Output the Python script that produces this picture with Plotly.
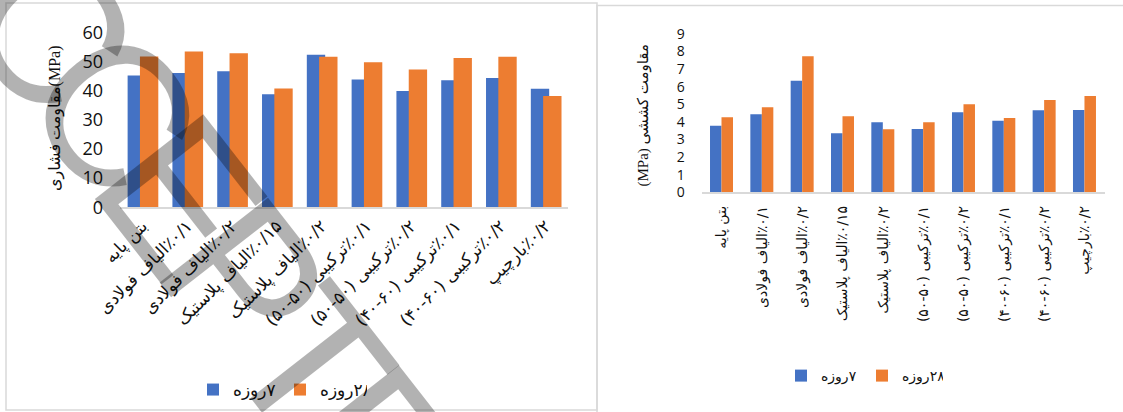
import plotly.graph_objects as go

W, H = 1123, 412

# ---------------- data ----------------
categories = [
    "بتن پایه",
    "٪۰/۱الیاف فولادی",
    "٪۰/۲الیاف فولادی",
    "٪۰/۱۵الیاف پلاستیک",
    "٪۰/۲الیاف پلاستیک",
    "٪۰/۱ترکیبی (۵۰-۵۰)",
    "٪۰/۲ترکیبی (۵۰-۵۰)",
    "٪۰/۱ترکیبی (۶۰-۴۰)",
    "٪۰/۲ترکیبی (۶۰-۴۰)",
    "٪۰/۲بارچیپ",
]
compressive_7 = [45.3, 46.1, 46.7, 38.8, 52.4, 43.9, 39.9, 43.6, 44.4, 40.7]
compressive_28 = [51.8, 53.5, 52.9, 40.8, 51.7, 49.8, 47.3, 51.3, 51.7, 38.2]
tensile_7 = [3.78, 4.43, 6.34, 3.35, 3.98, 3.60, 4.55, 4.07, 4.66, 4.68]
tensile_28 = [4.26, 4.83, 7.73, 4.32, 3.58, 3.98, 5.00, 4.22, 5.24, 5.47]
series_names = ["۷روزه", "۲۸روزه"]
left_title = "مقاومت فشاری(MPa)"
right_title = "مقاومت کششی (MPa)"
watermark_letters = ["C", "C", "E", "P", "T", "E", "D"]

BLUE = "#4472C4"
ORANGE = "#ED7D31"
RLE, PDF = "\u202B", "\u202C"


def rtl(s):
    return RLE + s + PDF


def px(x):
    return x / W


def py(y):
    return 1 - y / H


labels = [rtl(c) for c in categories]
names = [rtl(n) for n in series_names]

fig = go.Figure()

# left chart (compressive)
fig.add_trace(go.Bar(x=labels, y=compressive_7, name=names[0], marker_color=BLUE,
                     width=0.41, offset=-0.33, xaxis="x", yaxis="y", legend="legend"))
fig.add_trace(go.Bar(x=labels, y=compressive_28, name=names[1], marker_color=ORANGE,
                     width=0.41, offset=-0.055, xaxis="x", yaxis="y", legend="legend"))
# right chart (tensile)
fig.add_trace(go.Bar(x=labels, y=tensile_7, name=names[0], marker_color=BLUE,
                     width=0.285, offset=-0.294, xaxis="x2", yaxis="y2", legend="legend2"))
fig.add_trace(go.Bar(x=labels, y=tensile_28, name=names[1], marker_color=ORANGE,
                     width=0.285, offset=-0.009, xaxis="x2", yaxis="y2", legend="legend2"))

FA = "DejaVu Sans"
NUM = "Open Sans, Liberation Sans, sans-serif"

fig.update_layout(
    template="none",
    width=W, height=H, autosize=False,
    margin=dict(l=0, r=0, t=0, b=0, pad=0, autoexpand=False),
    paper_bgcolor="white", plot_bgcolor="white",
    barmode="overlay",
    xaxis=dict(domain=[px(120), px(568)], anchor="y", type="category", automargin=False,
               range=[-0.5, 9.5], tickangle=-45, ticks="",
               tickfont=dict(family=FA, size=17, color="#111"),
               showline=True, linecolor="#d9d9d9", linewidth=2, showgrid=False, zeroline=False),
    yaxis=dict(domain=[py(207.3), py(32.6)], anchor="x", range=[0, 60], dtick=10,
               automargin=False,
               showgrid=False, zeroline=False, showline=False, ticks="",
               ticklabelstandoff=16,
               tickfont=dict(family=NUM, size=18, color="#111")),
    xaxis2=dict(domain=[px(701.7), px(1105)], anchor="y2", type="category", automargin=False,
                range=[-0.5, 9.5], tickangle=-90, ticks="", ticklabelstandoff=6,
                tickfont=dict(family=FA, size=14, color="#111"),
                showline=True, linecolor="#d9d9d9", linewidth=2, showgrid=False, zeroline=False),
    yaxis2=dict(domain=[py(192.3), py(33.9)], anchor="x2", range=[0, 9], dtick=1,
                automargin=False,
                showgrid=False, zeroline=False, showline=False, ticks="",
                ticklabelstandoff=16,
                tickfont=dict(family=NUM, size=14, color="#111")),
    legend=dict(orientation="h", x=px(193), y=py(390), xanchor="left", yanchor="middle",
                font=dict(family=FA, size=17, color="#111"), bgcolor="rgba(0,0,0,0)",
                traceorder="normal", entrywidth=42),
    legend2=dict(orientation="h", x=px(781), y=py(376), xanchor="left", yanchor="middle",
                 font=dict(family=FA, size=14, color="#111"), bgcolor="rgba(0,0,0,0)",
                 traceorder="normal", entrywidth=36),
    showlegend=True,
)

annotations = [
    dict(text=left_title, x=px(55), y=py(119), xref="paper", yref="paper",
         textangle=-90, showarrow=False, xanchor="center", yanchor="middle",
         font=dict(family="Liberation Serif, DejaVu Sans", size=16, color="#111")),
    dict(text=rtl(right_title), x=px(643), y=py(115.5), xref="paper", yref="paper",
         textangle=-90, showarrow=False, xanchor="center", yanchor="middle",
         font=dict(family="Liberation Serif, DejaVu Sans", size=15, color="#111")),
]

# watermark letters along a diagonal
start = (49.7, 28.5)
step = (65.3, 83.5)
for i, ch in enumerate(watermark_letters):
    cx = start[0] + step[0] * i
    cy = start[1] + step[1] * i
    annotations.append(dict(text=ch, x=px(cx), y=py(cy), xref="paper", yref="paper",
                            textangle=52, showarrow=False, xanchor="center", yanchor="middle",
                            font=dict(family="Liberation Sans", size=200,
                                      color="rgba(0,0,0,0.3)")))
fig.update_layout(annotations=annotations)

fig.update_layout(shapes=[
    dict(type="rect", xref="paper", yref="paper", x0=px(6), x1=px(597), y0=py(410), y1=py(3),
         line=dict(color="#d9d9d9", width=1.5), fillcolor="rgba(0,0,0,0)", layer="below"),
    dict(type="rect", xref="paper", yref="paper", x0=px(597), x1=px(1135), y0=py(430), y1=py(5.5),
         line=dict(color="#d9d9d9", width=1.5), fillcolor="rgba(0,0,0,0)", layer="below"),
])

fig.write_html("out.html", include_plotlyjs=True, config={"displayModeBar": False})
